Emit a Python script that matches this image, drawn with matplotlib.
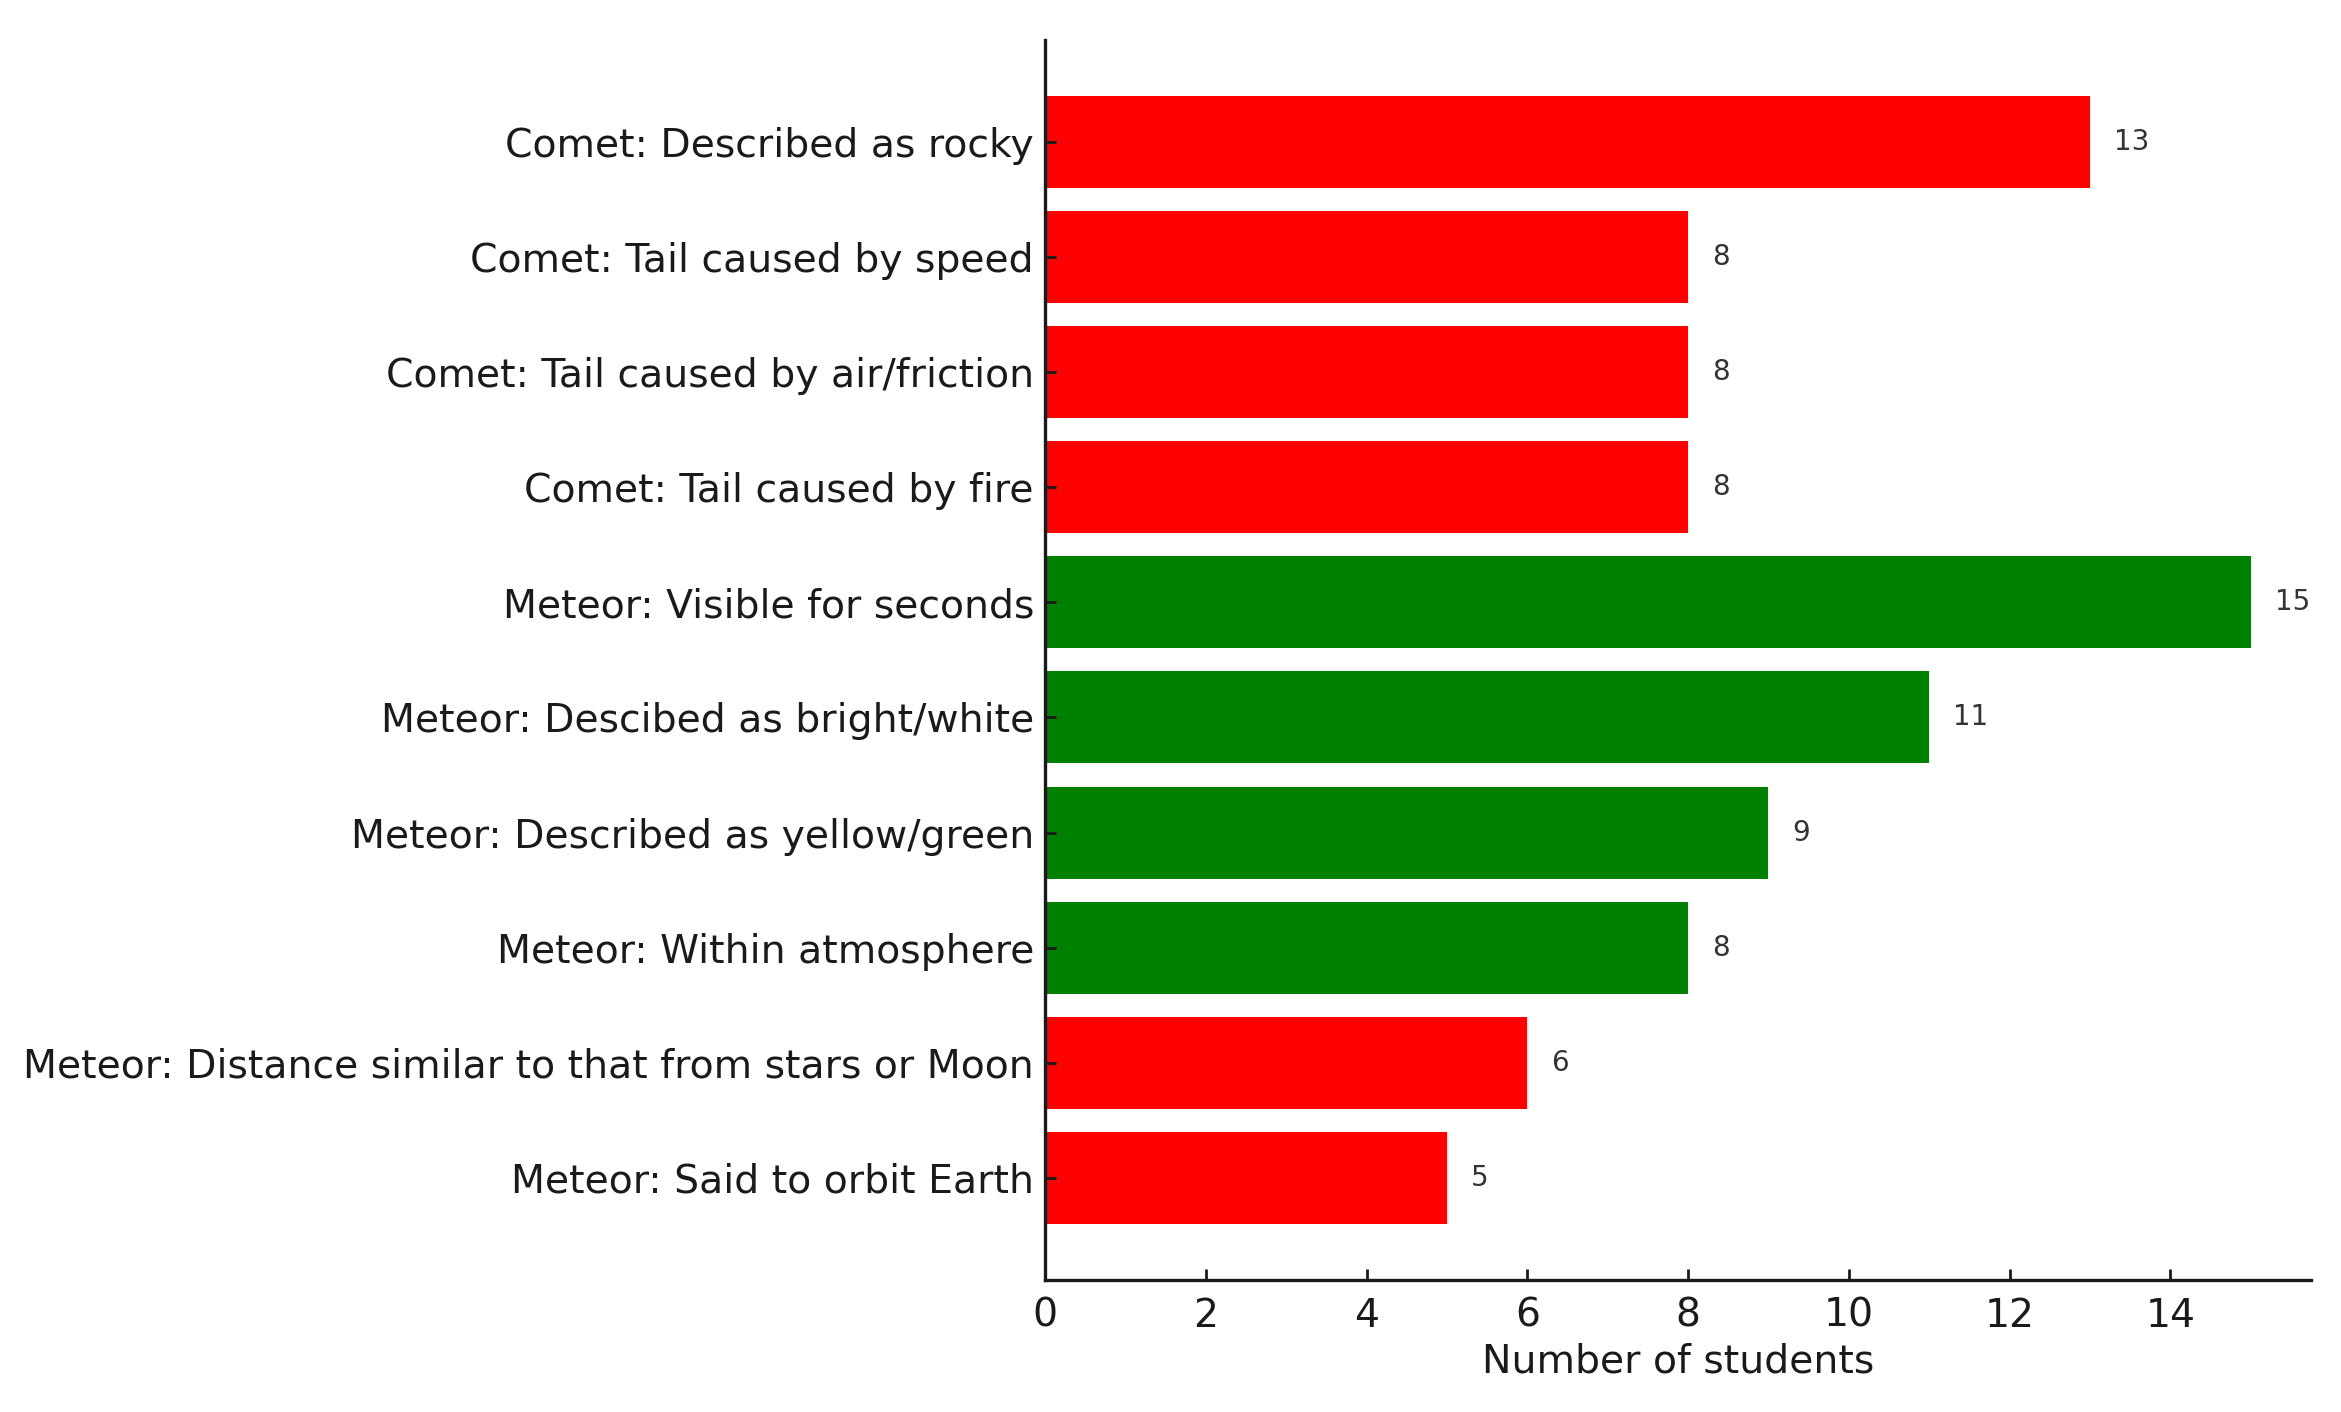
#!/usr/bin/env python3
"""Misconceptions about comets and meteors: horizontal bar chart."""

import matplotlib
matplotlib.use("Agg")
import matplotlib.pyplot as plt

CATEGORIES = [
    "Comet: Described as rocky",
    "Comet: Tail caused by speed",
    "Comet: Tail caused by air/friction",
    "Comet: Tail caused by fire",
    "Meteor: Visible for seconds",
    "Meteor: Descibed as bright/white",
    "Meteor: Described as yellow/green",
    "Meteor: Within atmosphere",
    "Meteor: Distance similar to that from stars or Moon",
    "Meteor: Said to orbit Earth",
]
COUNTS = [13, 8, 8, 8, 15, 11, 9, 8, 6, 5]
BAR_COLORS = ["red", "red", "red", "red", "green", "green", "green", "green", "red", "red"]

TEXT = "#1a1a1a"
FS = 14.2

fig = plt.figure(figsize=(2341 / 200, 1412 / 200), dpi=200)
ax = fig.add_axes([0.4464, 0.0935, 0.9872 - 0.4464, 0.9717 - 0.0935])

pos = range(len(CATEGORIES))
ax.barh(pos, COUNTS, color=BAR_COLORS, height=0.8)
ax.set_yticks(list(pos))
ax.set_yticklabels(CATEGORIES, fontsize=FS, color=TEXT)
ax.invert_yaxis()

for i, v in enumerate(COUNTS):
    ax.text(v + 0.3, i, str(v), ha="left", va="center", fontsize=10, color="#333333")

ax.set_xlabel("Number of students", fontsize=FS, color=TEXT, labelpad=3)
ax.tick_params(axis="both", direction="in", labelsize=FS, colors=TEXT, width=1.0, length=4)
ax.tick_params(axis="x", pad=6)
ax.tick_params(axis="y", pad=4)
for side in ("top", "right"):
    ax.spines[side].set_visible(False)
for side in ("left", "bottom"):
    ax.spines[side].set_linewidth(1.2)
    ax.spines[side].set_color(TEXT)

fig.savefig("out.png", dpi=200, facecolor="white")
